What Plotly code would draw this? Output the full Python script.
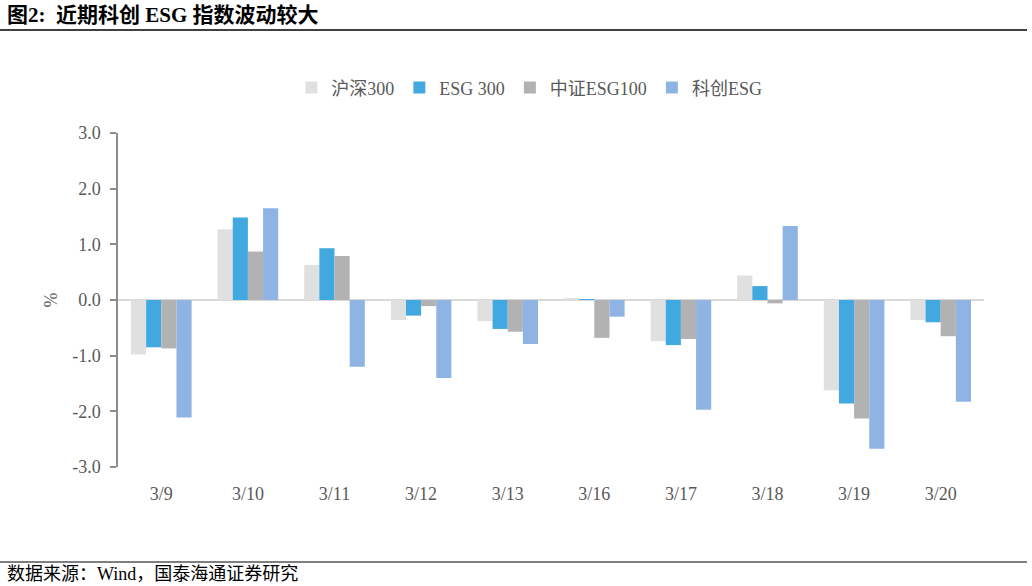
import plotly.graph_objects as go

categories = ["3/9", "3/10", "3/11", "3/12", "3/13", "3/16", "3/17", "3/18", "3/19", "3/20"]
hs300 = [-0.98, 1.27, 0.63, -0.36, -0.38, 0.03, -0.74, 0.44, -1.62, -0.36]
esg300 = [-0.85, 1.48, 0.93, -0.28, -0.52, 0.01, -0.81, 0.25, -1.86, -0.40]
zz_esg100 = [-0.87, 0.87, 0.79, -0.11, -0.57, -0.68, -0.70, -0.06, -2.13, -0.65]
kc_esg = [-2.11, 1.65, -1.20, -1.40, -0.79, -0.30, -1.97, 1.33, -2.67, -1.83]

series_names = ["沪深300", "ESG 300", "中证ESG100", "科创ESG"]
series_values = [hs300, esg300, zz_esg100, kc_esg]
colors = ["#E0E0E0", "#42A8E0", "#B2B2B2", "#8FB4E3"]

y_ticks = [3.0, 2.0, 1.0, 0.0, -1.0, -2.0, -3.0]
y_tick_text = ["3.0", "2.0", "1.0", "0.0", "-1.0", "-2.0", "-3.0"]

FONT = "Liberation Serif, Times New Roman, Noto Sans CJK SC, serif"

fig = go.Figure()
for name, vals, col in zip(series_names, series_values, colors):
    fig.add_trace(go.Bar(x=categories, y=vals, name=name, marker=dict(color=col, line=dict(width=0))))

fig.update_layout(
    width=1032, height=586,
    margin=dict(l=118, r=48, t=133, b=119),
    paper_bgcolor="white", plot_bgcolor="white",
    barmode="group", bargap=0.3, bargroupgap=0,
    font=dict(family=FONT, size=18, color="#595959"),
    showlegend=True,
    legend=dict(orientation="h", x=0.475, xanchor="center", y=1.135, yanchor="middle",
                font=dict(family=FONT, size=18, color="#595959"), itemwidth=30,
                traceorder="normal"),
    xaxis=dict(showline=False, showgrid=False, zeroline=False, ticks="",
               ticklabelstandoff=14,
               tickfont=dict(family=FONT, size=18, color="#595959")),
    yaxis=dict(range=[-3, 3], tickvals=y_ticks, ticktext=y_tick_text, showgrid=False,
               showline=True, linecolor="#8C8C8C", linewidth=1.5,
               ticks="outside", ticklen=6, tickcolor="#8C8C8C", tickwidth=1.5,
               ticklabelstandoff=6,
               zeroline=True, zerolinecolor="#D9D9D9", zerolinewidth=1.5,
               tickfont=dict(family=FONT, size=18, color="#595959"),
               title=dict(text="%", font=dict(family=FONT, size=18, color="#595959"), standoff=10)),
    shapes=[
        dict(type="line", xref="paper", yref="paper", x0=-118/866, x1=(1027-118)/866,
             y0=(467-30)/334, y1=(467-30)/334, line=dict(color="#000000", width=1.5)),
        dict(type="line", xref="paper", yref="paper", x0=-118/866, x1=(1027-118)/866,
             y0=(467-562)/334, y1=(467-562)/334, line=dict(color="#000000", width=1.2)),
    ],
    annotations=[
        dict(text="<b>图2:  近期科创 ESG 指数波动较大</b>", xref="paper", yref="paper",
             x=-113/866, y=(467-15)/334, xanchor="left", yanchor="middle", showarrow=False,
             font=dict(family=FONT, size=21, color="#000000")),
        dict(text="数据来源：Wind，国泰海通证券研究", xref="paper", yref="paper",
             x=-113/866, y=(467-574)/334, xanchor="left", yanchor="middle", showarrow=False,
             font=dict(family=FONT, size=18, color="#000000")),
    ],
)

fig.write_html("out.html")
